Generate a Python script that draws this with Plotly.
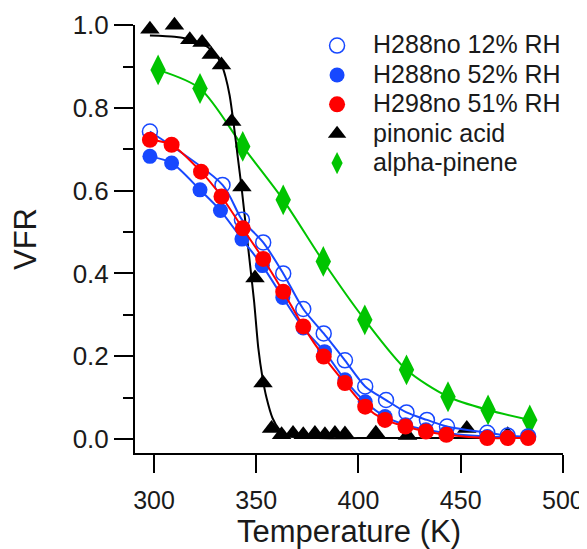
import plotly.graph_objects as go

# ---- data ----
open12_T = [298, 333.5, 343, 353.4, 363.2, 373, 383, 393.4, 403.3, 413.5, 423.5, 433.5, 443.3, 463, 473, 483]
open12_VFR = [0.743, 0.614, 0.53, 0.475, 0.40, 0.314, 0.255, 0.19, 0.127, 0.094, 0.064, 0.046, 0.03, 0.015, 0.008, 0.006]

fill52_T = [298, 308.6, 322.5, 332.5, 343, 353, 363, 373, 383.4, 393.4, 403.3, 413, 423, 433, 443, 463, 473, 483]
fill52_VFR = [0.683, 0.667, 0.602, 0.552, 0.483, 0.419, 0.342, 0.268, 0.211, 0.143, 0.09, 0.054, 0.034, 0.022, 0.014, 0.006, 0.004, 0.004]

red51_T = [298, 308.6, 323, 333, 343.4, 353.4, 363.2, 373, 383, 393.4, 403.3, 413, 423, 433, 443, 463, 473, 483]
red51_VFR = [0.723, 0.711, 0.646, 0.586, 0.509, 0.435, 0.356, 0.272, 0.199, 0.135, 0.078, 0.046, 0.03, 0.018, 0.01, 0.002, 0.002, 0.002]

pin_T = [298, 310, 317.5, 323.5, 328, 333, 338, 343, 349.4, 353.3, 357.5, 362.4, 368, 373, 378.7, 383.6, 388.5, 393.4, 408.5, 424, 453, 473]
pin_VFR = [0.99, 1.0, 0.965, 0.958, 0.929, 0.904, 0.767, 0.609, 0.389, 0.135, 0.025, 0.01, 0.013, 0.01, 0.013, 0.01, 0.013, 0.012, 0.014, 0.008, 0.025, 0.01]

pin_fit_T = [298, 310, 320, 326, 330, 333, 335, 337, 339, 341, 343, 345, 347, 349, 351, 353, 355, 358, 361, 365, 370, 380, 400, 440, 473]
pin_fit_VFR = [0.975, 0.972, 0.962, 0.948, 0.93, 0.905, 0.875, 0.83, 0.76, 0.68, 0.6, 0.51, 0.42, 0.33, 0.22, 0.15, 0.1, 0.05, 0.025, 0.01, 0.004, 0.002, 0.002, 0.002, 0.002]

apin_T = [302, 322.5, 343.4, 363.2, 382.8, 403.1, 423.5, 443.8, 463.4, 483.8]
apin_VFR = [0.892, 0.847, 0.707, 0.578, 0.429, 0.288, 0.167, 0.102, 0.070, 0.046]

x_ticks = [300, 350, 400, 450, 500]
y_ticks = [0.0, 0.2, 0.4, 0.6, 0.8, 1.0]

BLUE = "#1748FF"
RED = "#FF0000"
GREEN = "#00C400"
BLACK = "#000000"
FONT = "Liberation Sans, Arial, sans-serif"
TXT = "#1a1a1a"

def lbl(s):
    return "<span style='font-size:25px'>" + s + "</span>"

fig = go.Figure()

def add_line(x, y, color, smoothing=0.8):
    fig.add_trace(go.Scatter(x=x, y=y, mode="lines",
                             line=dict(color=color, width=2, shape="spline", smoothing=smoothing),
                             showlegend=False, hoverinfo="skip"))

def add_marks(x, y, marker, name, rank):
    fig.add_trace(go.Scatter(x=x, y=y, mode="markers", marker=marker,
                             name=lbl(name), legendrank=rank))

# draw order: green, black, open blue, filled blue, red (red on top)
add_line(apin_T, apin_VFR, GREEN)
add_marks(apin_T, apin_VFR, dict(symbol="diamond-tall", size=22, color=GREEN), "alpha-pinene", 5)

add_line(pin_fit_T, pin_fit_VFR, BLACK, 0.6)
add_marks(pin_T, pin_VFR, dict(symbol="triangle-up", size=17, color=BLACK), "pinonic acid", 4)

add_line(open12_T, open12_VFR, BLUE)
add_marks(open12_T, open12_VFR, dict(symbol="circle-open", size=15, color=BLUE, line=dict(width=1.5)),
          "H288no 12% RH", 1)

add_line(fill52_T, fill52_VFR, BLUE)
add_marks(fill52_T, fill52_VFR, dict(symbol="circle", size=15, color=BLUE), "H288no 52% RH", 2)

add_line(red51_T, red51_VFR, RED)
add_marks(red51_T, red51_VFR, dict(symbol="circle", size=16, color=RED), "H298no 51% RH", 3)

fig.update_traces(cliponaxis=False)

# page body has an 8px default margin, so the figure is 8px smaller and shifted
fig.update_layout(
    width=579, height=541,
    margin=dict(l=127, r=24, t=17, b=96, autoexpand=False),
    paper_bgcolor="white", plot_bgcolor="white",
    font=dict(family=FONT, color=TXT, size=25),
    showlegend=True,
    legend=dict(x=0.388, y=0.998, xanchor="left", yanchor="top",
                font=dict(family=FONT, size=20.3, color=TXT),
                bgcolor="rgba(0,0,0,0)", itemwidth=62, tracegroupgap=0),
    xaxis=dict(range=[290.7, 500.05], tickvals=x_ticks, ticktext=[str(v) for v in x_ticks],
               showline=True, linecolor=BLACK, linewidth=2, mirror=False, automargin=False,
               ticks="outside", ticklen=18, tickwidth=2, tickcolor=BLACK,
               showgrid=False, zeroline=False,
               tickfont=dict(size=25, family=FONT, color=TXT),
               ticklabelstandoff=6,
               title=dict(text="Temperature (K)", font=dict(size=31, family=FONT, color=TXT), standoff=7)),
    yaxis=dict(range=[-0.034, 1.0005], tickvals=y_ticks, ticktext=["%.1f" % v for v in y_ticks],
               showline=True, linecolor=BLACK, linewidth=2, mirror=False, automargin=False,
               ticks="outside", ticklen=19, tickwidth=2, tickcolor=BLACK,
               minor=dict(ticks="outside", ticklen=10, tickwidth=2, tickcolor=BLACK, dtick=0.1, tick0=0, showgrid=False),
               showgrid=False, zeroline=False,
               tickfont=dict(size=26, family=FONT, color=TXT),
               ticklabelstandoff=0,
               title=dict(text="VFR", font=dict(size=31, family=FONT, color=TXT), standoff=42)),
)

fig.write_html("out.html")
